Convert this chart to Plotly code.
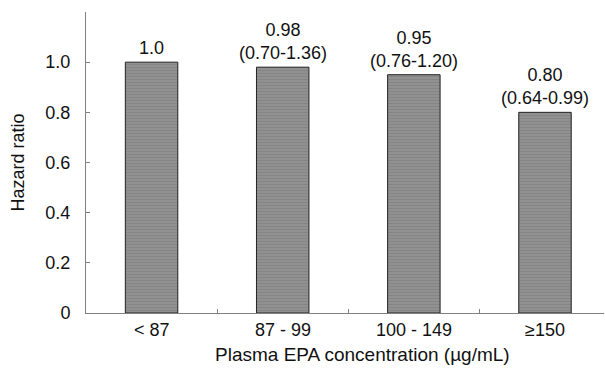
import plotly.graph_objects as go

# Hazard ratios by plasma EPA concentration group
categories = ["< 87", "87 - 99", "100 - 149", "\u2265150"]
hazard_ratio = [1.0, 0.98, 0.95, 0.80]
ci_low = [None, 0.70, 0.76, 0.64]
ci_high = [None, 1.36, 1.20, 0.99]

y_tickvals = [0, 0.2, 0.4, 0.6, 0.8, 1.0, 1.2]
y_ticktext = ["0", "0.2", "0.4", "0.6", "0.8", "1.0", ""]

x_title = "Plasma EPA concentration (\u00b5g/mL)"
y_title = "Hazard ratio"

font_family = "Liberation Sans, Arial, sans-serif"
font_size = 18
text_color = "#111111"
axis_color = "#808080"

labels = []
for hr, lo, hi in zip(hazard_ratio, ci_low, ci_high):
    if lo is None:
        labels.append(f"{hr:.1f}")
    else:
        labels.append(f"{hr:.2f}<br>({lo:.2f}-{hi:.2f})")

fig = go.Figure()
fig.add_trace(go.Bar(
    x=list(range(len(categories))),
    y=hazard_ratio,
    width=0.4,
    marker=dict(
        color="#8a8a8a",
        line=dict(color="#222222", width=1),
        pattern=dict(shape="-", fgcolor="#7a7a7a", bgcolor="#919191",
                     size=3, solidity=0.35),
    ),
    hoverinfo="skip",
))

# Value and confidence-interval labels above each bar
for i, (hr, lab) in enumerate(zip(hazard_ratio, labels)):
    fig.add_annotation(
        x=i, y=hr, text=lab, showarrow=False,
        yanchor="bottom", yshift=2,
        font=dict(family=font_family, size=font_size, color=text_color),
    )

# Category labels under each bar
for i, cat in enumerate(categories):
    fig.add_annotation(
        x=i, y=0, text=cat, showarrow=False,
        yanchor="top", yshift=-5,
        font=dict(family=font_family, size=font_size, color=text_color),
    )

# x-axis title
fig.add_annotation(
    x=0.533, xref="paper", y=-0.138, yref="paper", yanchor="middle",
    text=x_title, showarrow=False,
    font=dict(family=font_family, size=19, color=text_color),
)

fig.update_layout(
    width=605, height=369,
    margin=dict(l=86, r=1, t=12, b=56),
    paper_bgcolor="white", plot_bgcolor="white",
    showlegend=False,
    font=dict(family=font_family, size=font_size, color=text_color),
    xaxis=dict(
        range=[-0.5, 3.45],
        tickvals=[0.5, 1.5, 2.5],
        ticks="inside", ticklen=4, tickcolor=axis_color,
        showticklabels=False,
        showline=True, linecolor=axis_color, linewidth=1,
        showgrid=False, zeroline=False,
    ),
    yaxis=dict(
        range=[0, 1.2],
        tickvals=y_tickvals, ticktext=y_ticktext,
        ticks="inside", ticklen=4, tickcolor=axis_color,
        ticklabelstandoff=11,
        showline=True, linecolor=axis_color, linewidth=1,
        showgrid=False, zeroline=False,
        title=dict(text=y_title, standoff=16,
                   font=dict(family=font_family, size=font_size, color=text_color)),
        tickfont=dict(family=font_family, size=font_size, color=text_color),
    ),
)

fig.write_html("out.html")
